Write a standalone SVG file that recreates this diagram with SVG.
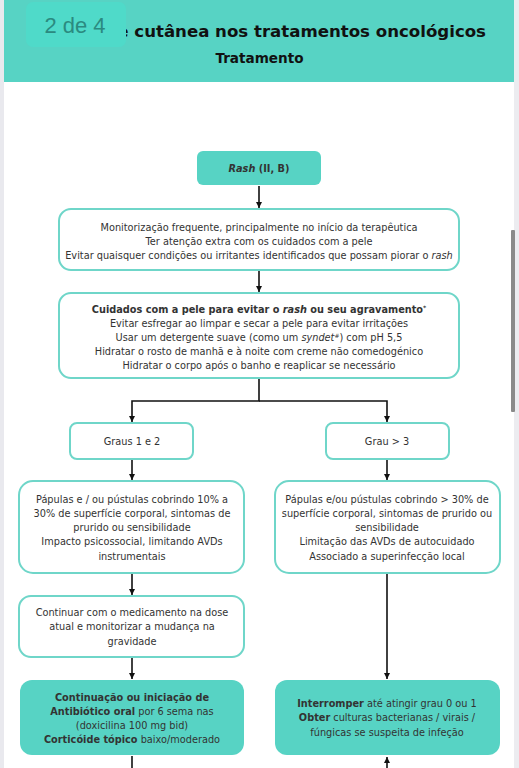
<svg xmlns="http://www.w3.org/2000/svg" width="519" height="768" viewBox="0 0 519 768">
<defs>
<style>
.t{font-family:"DejaVu Sans","Liberation Sans",sans-serif;font-size:9.75px;fill:#333;text-anchor:middle}
.b{font-weight:bold}
.i{font-style:italic}
.box{fill:#fff;stroke:#6fd6c9;stroke-width:2}
.fill{fill:#57d3c4}
.c{stroke:#111;stroke-width:1.6;fill:none}
</style>
<marker id="ah" markerWidth="8" markerHeight="8" refX="6" refY="4" orient="auto" markerUnits="userSpaceOnUse">
<path d="M0,1 L6,4 L0,7 Z" fill="#111"/>
</marker>
</defs>
<rect x="0" y="0" width="519" height="768" fill="#fff"/>
<rect x="0" y="0" width="4" height="768" fill="#e9e9ee"/>
<rect x="514" y="0" width="5" height="768" fill="#ececf0"/>
<rect x="511" y="230" width="4" height="182" rx="1" fill="#8a8a8a"/>
<g id="header">
<rect x="4" y="0" width="510" height="82" fill="#57d3c4"/>
<text x="486" y="37" font-family="DejaVu Sans, sans-serif" font-size="16.6" font-weight="bold" fill="#111" text-anchor="end">e cutânea nos tratamentos oncológicos</text>
<text x="259.5" y="63" font-family="DejaVu Sans, sans-serif" font-size="13.6" font-weight="bold" fill="#111" text-anchor="middle">Tratamento</text>
<rect x="26" y="2" width="100" height="45" rx="7" fill="#4fdac9"/>
<text x="75" y="33" font-family="Liberation Sans, sans-serif" font-size="22" fill="#2b8a80" text-anchor="middle">2 de 4</text>
</g>
<g id="connectors">
<line class="c" x1="259" y1="186" x2="259" y2="208" marker-end="url(#ah)"/>
<line class="c" x1="259" y1="271" x2="259" y2="292" marker-end="url(#ah)"/>
<polyline class="c" points="259,379 259,401 132,401 132,422" marker-end="url(#ah)"/>
<polyline class="c" points="259,401 387,401 387,422" marker-end="url(#ah)"/>
<line class="c" x1="132" y1="460" x2="132" y2="480" marker-end="url(#ah)"/>
<line class="c" x1="387" y1="460" x2="387" y2="480" marker-end="url(#ah)"/>
<line class="c" x1="132" y1="574" x2="132" y2="595" marker-end="url(#ah)"/>
<line class="c" x1="132" y1="658" x2="132" y2="679" marker-end="url(#ah)"/>
<line class="c" x1="387" y1="574" x2="387" y2="679" marker-end="url(#ah)"/>
<line class="c" x1="132" y1="756" x2="132" y2="768"/>
<line class="c" x1="387" y1="768" x2="387" y2="757" marker-end="url(#ah)"/>
</g>
<g id="n-rash">
<rect class="fill" x="197" y="151" width="124" height="34" rx="6"/>
<text class="t b" x="259" y="172" font-size="10.2"><tspan class="i">Rash</tspan> (II, B)</text>
</g>
<g id="n-monitor">
<rect class="box" x="59" y="209" width="400" height="61" rx="12"/>
<text class="t" x="259" y="231">Monitorização frequente, principalmente no início da terapêutica</text>
<text class="t" x="259" y="245">Ter atenção extra com os cuidados com a pele</text>
<text class="t" x="259" y="259">Evitar quaisquer condições ou irritantes identificados que possam piorar o <tspan class="i">rash</tspan></text>
</g>
<g id="n-cuidados">
<rect class="box" x="59" y="293" width="400" height="85" rx="12"/>
<text class="t b" x="259" y="313">Cuidados com a pele para evitar o <tspan class="i">rash</tspan> ou seu agravamento<tspan font-size="6" dy="-3">*</tspan></text>
<text class="t" x="259" y="327">Evitar esfregar ao limpar e secar a pele para evitar irritações</text>
<text class="t" x="259" y="341">Usar um detergente suave (como um <tspan class="i">syndet</tspan><tspan font-size="6" dy="-3">#</tspan><tspan dy="3">) com pH 5,5</tspan></text>
<text class="t" x="259" y="355">Hidratar o rosto de manhã e à noite com creme não comedogénico</text>
<text class="t" x="259" y="369">Hidratar o corpo após o banho e reaplicar se necessário</text>
</g>
<g id="n-graus12">
<rect class="box" x="70" y="423" width="123" height="36" rx="7"/>
<text class="t" x="132" y="445">Graus 1 e 2</text>
</g>
<g id="n-grau3">
<rect class="box" x="326" y="423" width="123" height="36" rx="7"/>
<text class="t" x="387" y="445">Grau &gt; 3</text>
</g>
<g id="n-papulas1">
<rect class="box" x="19" y="481" width="225" height="92" rx="14"/>
<text class="t" x="132" y="503">Pápulas e / ou pústulas cobrindo 10% a</text>
<text class="t" x="132" y="517">30% de superfície corporal, sintomas de</text>
<text class="t" x="132" y="531">prurido ou sensibilidade</text>
<text class="t" x="132" y="545">Impacto psicossocial, limitando AVDs</text>
<text class="t" x="132" y="560">instrumentais</text>
</g>
<g id="n-papulas3">
<rect class="box" x="275" y="481" width="225" height="92" rx="14"/>
<text class="t" x="387" y="503">Pápulas e/ou pústulas cobrindo &gt; 30% de</text>
<text class="t" x="387" y="517">superfície corporal, sintomas de prurido ou</text>
<text class="t" x="387" y="531">sensibilidade</text>
<text class="t" x="387" y="545">Limitação das AVDs de autocuidado</text>
<text class="t" x="387" y="560">Associado a superinfecção local</text>
</g>
<g id="n-continuar">
<rect class="box" x="19" y="596" width="225" height="61" rx="12"/>
<text class="t" x="132" y="616">Continuar com o medicamento na dose</text>
<text class="t" x="132" y="630">atual e monitorizar a mudança na</text>
<text class="t" x="132" y="645">gravidade</text>
</g>
<g id="n-antibiotico">
<rect class="fill" x="20" y="680" width="224" height="75" rx="12"/>
<text class="t" x="132" y="701"><tspan class="b">Continuação ou iniciação de</tspan></text>
<text class="t" x="132" y="715"><tspan class="b">Antibiótico oral</tspan> por 6 sema nas</text>
<text class="t" x="132" y="729">(doxicilina 100 mg bid)</text>
<text class="t" x="132" y="743"><tspan class="b">Corticóide tópico</tspan> baixo/moderado</text>
</g>
<g id="n-interromper">
<rect class="fill" x="275" y="680" width="225" height="75" rx="12"/>
<text class="t" x="387" y="707"><tspan class="b">Interromper</tspan> até atingir grau 0 ou 1</text>
<text class="t" x="387" y="721"><tspan class="b">Obter</tspan> culturas bacterianas / virais /</text>
<text class="t" x="387" y="736">fúngicas se suspeita de infeção</text>
</g>
</svg>
